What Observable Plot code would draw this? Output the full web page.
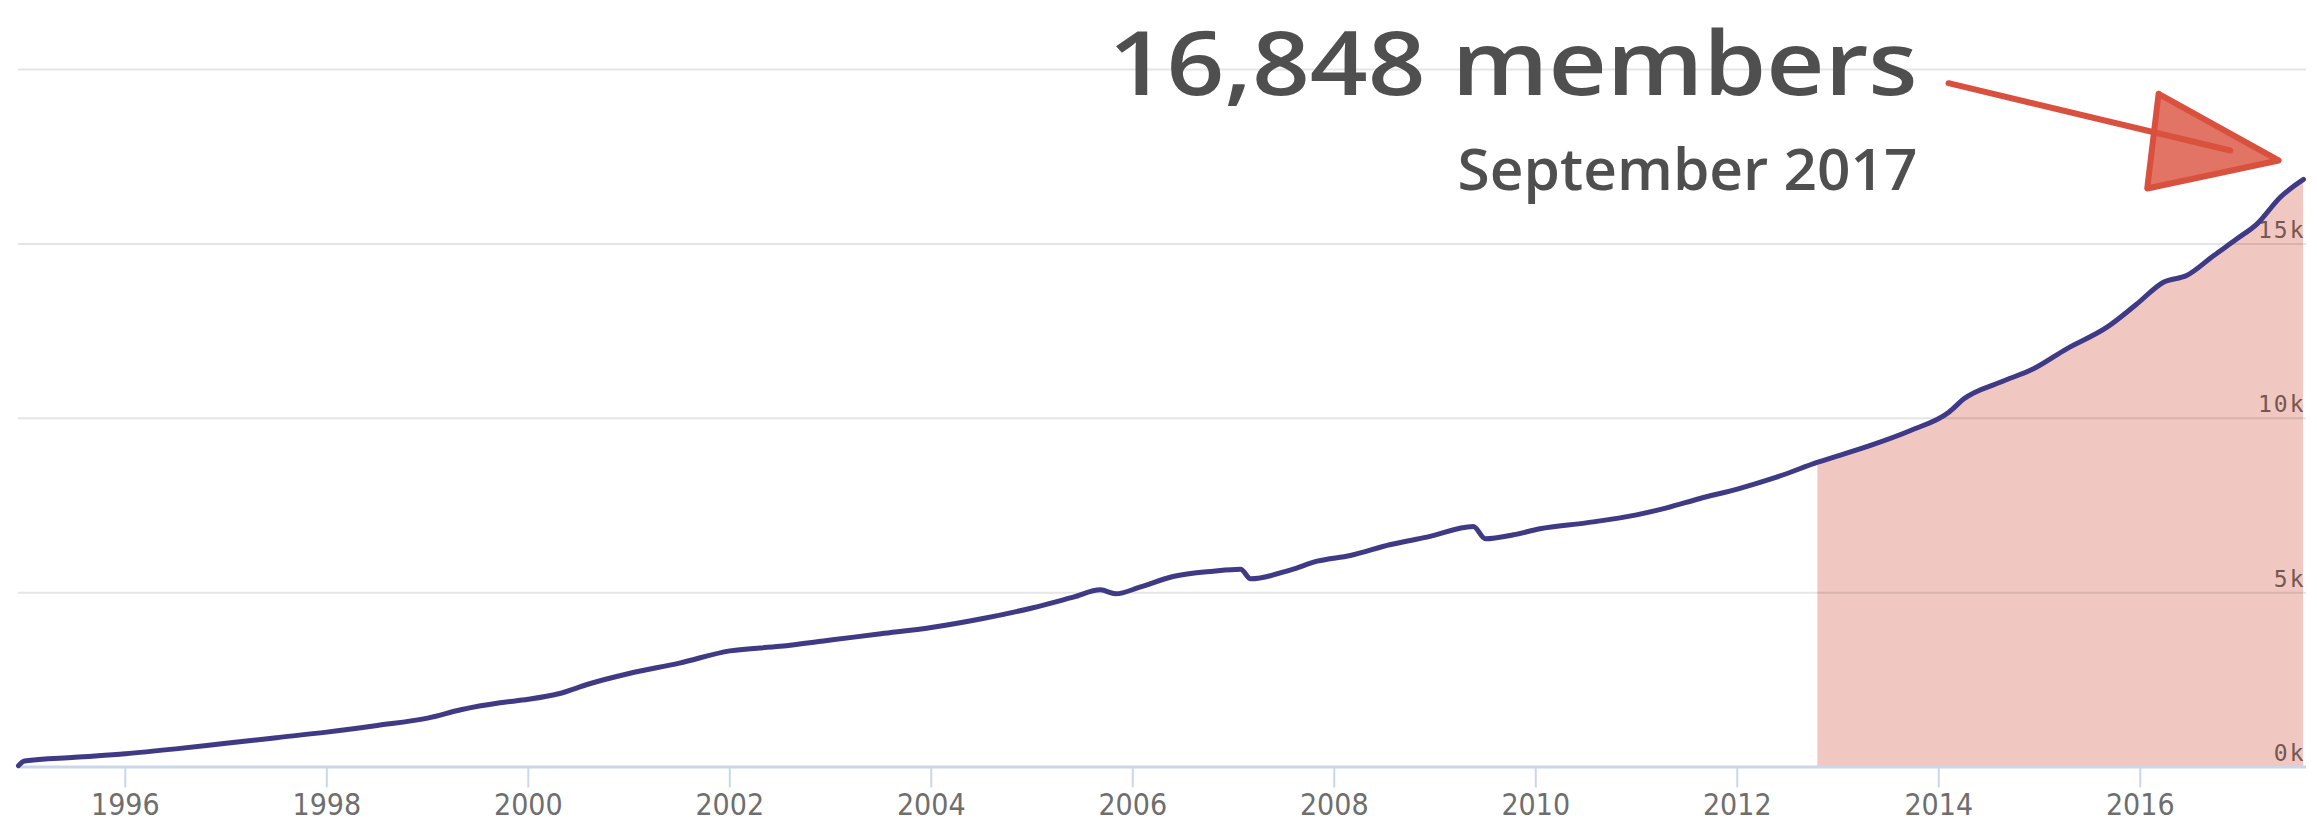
<!DOCTYPE html>
<html><head><meta charset="utf-8">
<script src="https://cdn.jsdelivr.net/npm/d3@7"></script>
<script src="https://cdn.jsdelivr.net/npm/@observablehq/plot@0.6"></script>
<style>
body{margin:0;background:#fff;}
#chart svg{display:block;}
.ylab text{letter-spacing:2px;}
</style>
</head><body><div id="chart"></div>
<script>
// ---- data ----
const years = [1994.94,1995.0,1995.5,1996.0,1996.5,1997.0,1997.5,1998.0,1998.5,1999.0,1999.33,1999.72,
  2000.0,2000.3,2000.6,2001.0,2001.5,2002.0,2002.5,2003.0,2003.5,2004.0,2004.5,2005.0,2005.41,2005.68,
  2005.83,2006.07,2006.4,2006.8,2007.07,2007.17,2007.57,2007.83,2008.16,2008.56,2008.92,2009.38,2009.5,
  2009.78,2010.04,2010.5,2011.0,2011.3,2011.63,2012.01,2012.39,2012.8,2013.27,2013.72,2014.1,2014.25,
  2014.61,2014.94,2015.27,2015.67,2015.96,2016.23,2016.46,2016.73,2016.96,2017.16,2017.39,2017.62];
const members = [40,170,280,380,520,680,840,1000,1190,1400,1640,1840,
  1940,2100,2380,2680,2980,3330,3460,3640,3820,4000,4250,4560,4870,5080,
  4966,5156,5462,5615,5672,5396,5654,5901,6065,6380,6590,6896,6543,
  6658,6830,7000,7230,7430,7700,7977,8310,8740,9170,9649,10174,10557,
  11034,11418,11991,12611,13262,13901,14093,14667,15145,15575,16338,16848];
const shadeStart = 2012.8;
const xTicks = [1996,1998,2000,2002,2004,2006,2008,2010,2012,2014,2016];
const yGrid = [0,5000,10000,15000,20000];
const yLabelValues = [0,5000,10000,15000];
const yLabels = ["0k","5k","10k","15k"];
const titleText = "16,848 members";
const subtitleText = "September 2017";

// annotation anchors (in data units)
const titleAnchor = {x: 2013.79, y: 19255};
const subtitleAnchor = {x: 2013.79, y: 16559};
const arrowShaft = [{x1: 2014.097, y1: 19607, x2: 2016.894, y2: 17677}];
const arrowHeadX = [2016.182, 2017.373, 2016.069, 2016.182];
const arrowHeadY = [19303, 17391, 16588, 19303];

const data = years.map((x, i) => ({x, y: members[i]}));
const shaded = data.filter(d => d.x >= shadeStart);
const head = arrowHeadX.map((x, i) => ({x, y: arrowHeadY[i]}));
const yLab = yLabelValues.map((v, i) => ({v, t: yLabels[i]}));

const handFont = "'Open Sans', 'Noto Sans', sans-serif";

const chart = Plot.plot({
  width: 2317, height: 820,
  marginLeft: 18, marginRight: 11, marginTop: 69, marginBottom: 53.5,
  x: {domain: [1994.94, 2017.65], axis: null},
  y: {domain: [0, 20000], axis: null},
  style: {background: "#fff", overflow: "visible"},
  marks: [
    Plot.areaY(shaded, {x: "x", y: "y", fill: "#f1c8c1", curve: "monotone-x"}),
    Plot.ruleY(yGrid, {stroke: "#000", strokeOpacity: 0.1, strokeWidth: 2}),
    Plot.ruleY([0], {stroke: "#ccd6eb", strokeWidth: 3}),
    Plot.axisX(xTicks, {tickSize: 21, tickPadding: 6, stroke: "#ccd6eb", strokeWidth: 2,
      fill: "#6e6e6e", fontSize: 30, fontFamily: "'DejaVu Sans Condensed','DejaVu Sans',sans-serif",
      tickFormat: d => String(d), label: null}),
    Plot.text(yLab, {y: "v", text: "t", frameAnchor: "right", textAnchor: "end", lineAnchor: "bottom",
      dx: -1, dy: -6, fill: "#76574f", fontSize: 23, fontFamily: "'DejaVu Sans Mono',monospace", className: "ylab"}),
    Plot.line(data, {x: "x", y: "y", stroke: "#3f3a85", strokeWidth: 5, strokeLinejoin: "round", curve: "monotone-x"}),
    Plot.text([titleAnchor], {x: "x", y: "y", text: () => titleText, textAnchor: "end", lineAnchor: "bottom",
      fontSize: 88, fontWeight: 600, fill: "#4f4f4f", fontFamily: handFont, className: "ttl"}),
    Plot.text([subtitleAnchor], {x: "x", y: "y", text: () => subtitleText, textAnchor: "end", lineAnchor: "bottom",
      fontSize: 58, fontWeight: 600, fill: "#4f4f4f", fontFamily: handFont, className: "sub"}),
    Plot.arrow(arrowShaft, {x1: "x1", y1: "y1", x2: "x2", y2: "y2", bend: 0, headLength: 0,
      stroke: "#d9513e", strokeWidth: 6}),
    Plot.line(head, {x: "x", y: "y", stroke: "#d9513e", strokeWidth: 6, fill: "#d9513e", fillOpacity: 0.8,
      strokeLinejoin: "round"})
  ]
});
document.getElementById("chart").appendChild(chart);

// stretch the hand-lettered annotation text to the reference widths
const fit = (cls, len) => {
  chart.querySelectorAll(`.${cls} text`).forEach(t => {
    t.setAttribute("textLength", len);
    t.setAttribute("lengthAdjust", "spacingAndGlyphs");
  });
};
fit("ttl", 809);
fit("sub", 460);
</script>
</body></html>
